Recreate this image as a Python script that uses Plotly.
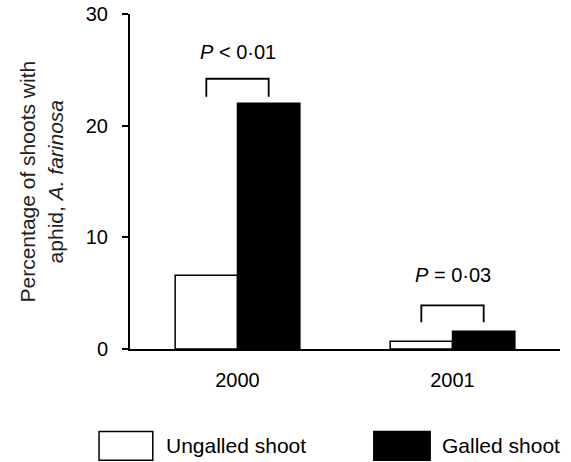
import plotly.graph_objects as go

years = ["2000", "2001"]
ungalled = [6.6, 0.7]
galled = [22.0, 1.6]
p_labels = ["<i>P</i> &lt; 0·01", "<i>P</i> = 0·03"]
bracket_top = [24.2, 3.9]
bracket_bottom = [22.6, 2.4]
label_y = [26.6, 6.6]
series_names = ["Ungalled shoot", "Galled shoot"]

FONT = "Liberation Sans, Arial, Helvetica, sans-serif"
BARGAP = 0.42
half = (1 - BARGAP) / 4  # offset from category centre to each bar centre

xpos = list(range(len(years)))

fig = go.Figure()
fig.add_trace(go.Bar(x=xpos, y=ungalled, name=series_names[0],
                     marker=dict(color="white", line=dict(color="black", width=1.5))))
fig.add_trace(go.Bar(x=xpos, y=galled, name=series_names[1],
                     marker=dict(color="black", line=dict(color="black", width=1.5))))

for i in xpos:
    xl, xr = i - half, i + half
    fig.add_trace(go.Scatter(
        x=[xl, xl, xr, xr], y=[bracket_bottom[i], bracket_top[i], bracket_top[i], bracket_bottom[i]],
        mode="lines", line=dict(color="black", width=1.8), showlegend=False, hoverinfo="skip"))
    fig.add_annotation(x=i, y=label_y[i], xref="x", yref="y", text=p_labels[i],
                       showarrow=False, font=dict(size=20, color="black", family=FONT))

# y-axis title
fig.add_annotation(xref="paper", yref="paper", x=-0.207, y=0.5,
                   text="Percentage of shoots with<br>aphid, <i>A. farinosa</i>",
                   textangle=-90, showarrow=False, xanchor="center", yanchor="middle",
                   font=dict(size=21, color="#222", family=FONT))

# custom legend
leg = [(-0.072, 0.053, "white", series_names[0], 0.078),
       (0.567, 0.698, "black", series_names[1], 0.722)]
for x0, x1, col, name, tx in leg:
    fig.add_shape(type="rect", xref="paper", yref="paper", x0=x0, x1=x1, y0=-0.332, y1=-0.246,
                  fillcolor=col, line=dict(color="black", width=1.5))
    fig.add_annotation(xref="paper", yref="paper", x=tx, y=-0.289, text=name, showarrow=False,
                       xanchor="left", yanchor="middle",
                       font=dict(size=21, color="black", family=FONT))

fig.update_layout(
    width=571, height=462,
    margin=dict(l=130, r=11, t=14, b=113, autoexpand=False),
    barmode="group", bargap=BARGAP, bargroupgap=0,
    plot_bgcolor="white", paper_bgcolor="white",
    showlegend=False,
    font=dict(family=FONT, size=20, color="black"),
    xaxis=dict(range=[-0.5, 1.5], tickvals=xpos, ticktext=years, ticks="",
               showline=True, linecolor="black", linewidth=2, showgrid=False, zeroline=False,
               ticklabelstandoff=12, automargin=False, fixedrange=True),
    yaxis=dict(range=[0, 30], tickvals=[0, 10, 20, 30], ticks="outside", ticklen=6, tickwidth=2,
               tickcolor="black", showline=True, linecolor="black", linewidth=2,
               showgrid=False, zeroline=False, ticklabelstandoff=10, ticklabeloverflow="allow",
               automargin=False, fixedrange=True),
)

fig.write_html("out.html", config={"displayModeBar": False},
               post_script="document.body.style.margin='0';")
